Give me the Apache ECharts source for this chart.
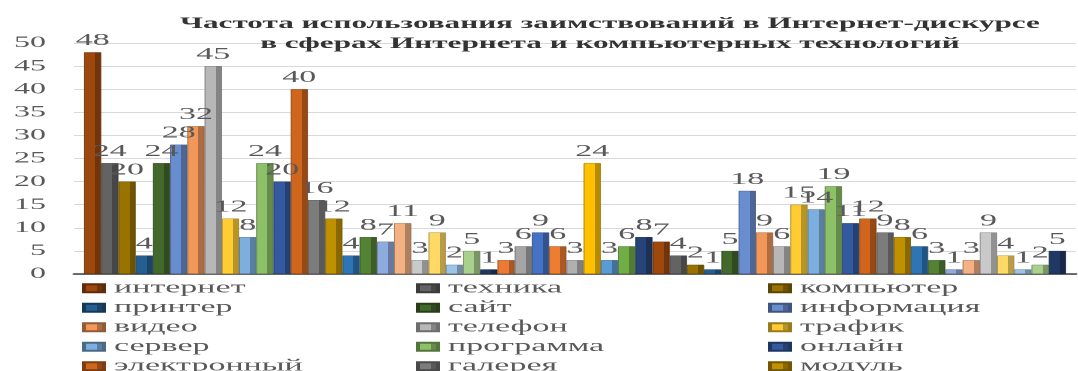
<!DOCTYPE html>
<html>
<head>
<meta charset="utf-8">
<script src="https://cdn.jsdelivr.net/npm/echarts@6/dist/echarts.min.js"></script>
<style>
  html, body { margin: 0; padding: 0; background: #ffffff; overflow: hidden; }
  /* the chart is laid out at half width and stretched horizontally */
  #chart { width: 539px; height: 371px; transform: scaleX(2); transform-origin: 0 0; }
</style>
</head>
<body>
<div id="chart"></div>
<script>
// Words shown in the legend (first fifteen series)
const words = [
  'интернет', 'техника', 'компьютер',
  'принтер', 'сайт', 'информация',
  'видео', 'телефон', 'трафик',
  'сервер', 'программа', 'онлайн',
  'электронный', 'галерея', 'модуль'
];

// Number of uses, one bar per series, left to right
const counts = [
  48, 24, 20, 4, 24, 28, 32, 45, 12, 8, 24, 20, 40, 16, 12,
  4, 8, 7, 11, 3, 9, 2, 5, 1, 3, 6, 9, 6, 3, 24,
  3, 6, 8, 7, 4, 2, 1, 5, 18, 9, 6, 15, 14, 19, 11,
  12, 9, 8, 6, 3, 1, 3, 9, 4, 1, 2, 5
];

// Value axis range
const yMin = 0, yMax = 50, yStep = 5;

// Bar colours, in the same order as counts
const palette = [
  '#9E480E', '#636363', '#997300', '#255E91', '#43682B', '#698ED0', '#F1975A', '#B7B7B7',
  '#FFCD33', '#7CAFDD', '#8CC168', '#335AA1', '#D0651C', '#7C7C7C', '#BF9000',
  '#2E75B6', '#548235', '#8FAADC', '#F4B183', '#C9C9C9', '#FFD966', '#9DC3E6', '#A9D18E',
  '#203864', '#EB7A35', '#A5A5A5', '#4472C4', '#ED7D31', '#B0B0B0', '#FFC000', '#5B9BD5',
  '#70AD47', '#264478',
  '#9E480E', '#636363', '#997300', '#255E91', '#43682B', '#698ED0', '#F1975A', '#B7B7B7',
  '#FFCD33', '#7CAFDD', '#8CC168', '#335AA1', '#D0651C', '#7C7C7C', '#BF9000',
  '#2E75B6', '#548235', '#8FAADC', '#F4B183', '#C9C9C9', '#FFD966', '#9DC3E6', '#A9D18E',
  '#203864'
];

const serif = '"Liberation Serif", "Times New Roman", serif';

function darken(hex, f) {
  const n = parseInt(hex.slice(1), 16);
  const r = Math.round(((n >> 16) & 255) * f);
  const g = Math.round(((n >> 8) & 255) * f);
  const b = Math.round((n & 255) * f);
  return 'rgb(' + r + ',' + g + ',' + b + ')';
}

// Front face plus a darker side face to give the columns depth
function columnFill(c) {
  const side = darken(c, 0.72);
  return new echarts.graphic.LinearGradient(0, 0, 1, 0, [
    { offset: 0, color: c },
    { offset: 0.64, color: c },
    { offset: 0.64, color: side },
    { offset: 1, color: side }
  ]);
}

const series = counts.map((v, i) => ({
  name: i < words.length ? words[i] : undefined,
  type: 'bar',
  data: [v],
  barGap: '0%',
  barCategoryGap: '2%',
  itemStyle: {
    color: columnFill(palette[i]),
    borderColor: darken(palette[i], 0.6),
    borderWidth: 0.4
  },
  label: {
    show: true,
    position: 'top',
    distance: 3,
    fontFamily: serif,
    fontSize: 17,
    color: '#595959'
  },
  emphasis: { disabled: true }
}));

const legendLefts = [41, 208, 384];

const chart = echarts.init(document.getElementById('chart'), null, { devicePixelRatio: 2, renderer: 'canvas' });
chart.setOption({
  animation: false,
  backgroundColor: '#ffffff',
  title: {
    text: 'Частота использования заимствований в Интернет-дискурсе\nв сферах Интернета и компьютерных технологий',
    left: 300,
    top: 9,
    textAlign: 'center',
    textStyle: {
      fontFamily: serif,
      fontSize: 15.6,
      fontWeight: 'bold',
      color: '#333333',
      lineHeight: 20
    }
  },
  legend: legendLefts.map((x, col) => ({
    orient: 'vertical',
    left: x,
    top: 278.5,
    height: 110,
    padding: 0,
    itemGap: 0,
    itemWidth: 10,
    itemHeight: 8,
    icon: 'rect',
    selectedMode: false,
    data: words.filter((_, i) => i % 3 === col),
    textStyle: { fontFamily: serif, fontSize: 17, color: '#595959', lineHeight: 19.5 }
  })),
  grid: { left: 37, right: 1, top: 43, bottom: 97 },
  xAxis: {
    type: 'category',
    data: [''],
    axisTick: { show: false },
    axisLabel: { show: false },
    axisLine: { lineStyle: { color: '#404040', width: 1.5 } }
  },
  yAxis: {
    type: 'value',
    min: yMin,
    max: yMax,
    interval: yStep,
    axisLine: { show: false },
    axisTick: { show: false },
    axisLabel: { fontFamily: serif, fontSize: 16, color: '#595959', margin: 14 },
    splitLine: { lineStyle: { color: '#D9D9D9', width: 1 } }
  },
  series: series
});
</script>
</body>
</html>
